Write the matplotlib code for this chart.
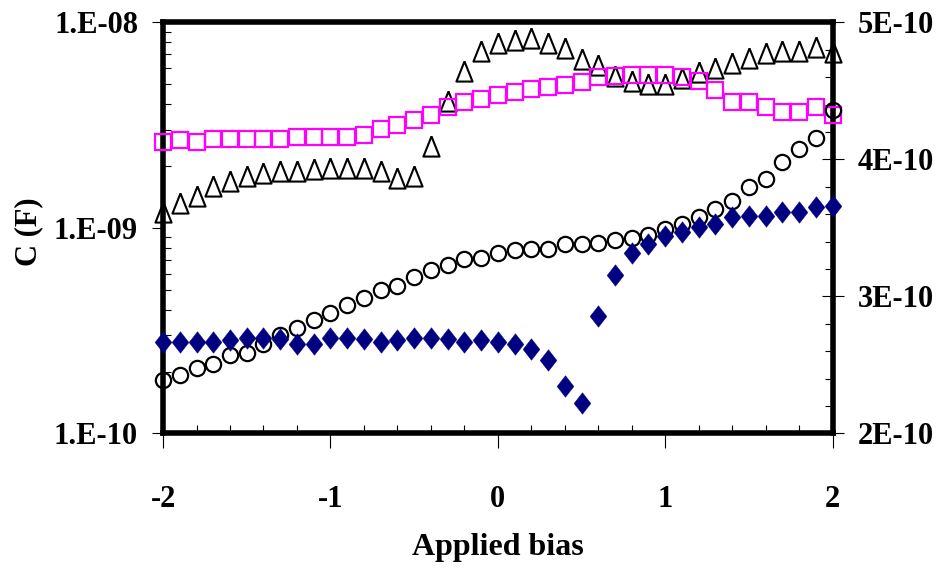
import numpy as np
import matplotlib
matplotlib.use('Agg')
from matplotlib import pyplot as plt
from matplotlib.ticker import MultipleLocator, FuncFormatter, LogLocator, NullFormatter

plt.rcParams['font.family'] = ['Liberation Serif', 'DejaVu Serif']
plt.rcParams['font.weight'] = 'bold'

# bias sweep, -2 V to 2 V in 0.1 V steps
bias = np.round(np.arange(-2.0, 2.01, 0.1), 1)

# left axis (log scale), C in F
c_triangle = [1.20e-9, 1.32e-9, 1.43e-9, 1.60e-9, 1.69e-9, 1.79e-9, 1.85e-9, 1.89e-9, 1.89e-9, 1.94e-9,
              1.96e-9, 1.96e-9, 1.96e-9, 1.89e-9, 1.75e-9, 1.79e-9, 2.51e-9, 4.15e-9, 5.81e-9, 7.27e-9,
              7.95e-9, 8.22e-9, 8.40e-9, 7.95e-9, 7.51e-9, 6.64e-9, 6.21e-9, 5.49e-9, 5.19e-9, 5.02e-9,
              5.02e-9, 5.37e-9, 5.74e-9, 6.01e-9, 6.35e-9, 6.72e-9, 7.11e-9, 7.27e-9, 7.27e-9, 7.60e-9,
              7.19e-9]
c_square = [2.62e-9, 2.68e-9, 2.62e-9, 2.71e-9, 2.71e-9, 2.71e-9, 2.71e-9, 2.71e-9, 2.77e-9, 2.77e-9,
            2.77e-9, 2.77e-9, 2.84e-9, 3.03e-9, 3.17e-9, 3.35e-9, 3.55e-9, 3.88e-9, 4.10e-9, 4.24e-9,
            4.44e-9, 4.59e-9, 4.75e-9, 4.86e-9, 4.96e-9, 5.13e-9, 5.43e-9, 5.49e-9, 5.55e-9, 5.55e-9,
            5.55e-9, 5.43e-9, 5.19e-9, 4.69e-9, 4.10e-9, 4.10e-9, 3.88e-9, 3.67e-9, 3.67e-9, 3.88e-9,
            3.55e-9]

# right axis (linear), C in F
c_circle = [2.39e-10, 2.43e-10, 2.48e-10, 2.51e-10, 2.57e-10, 2.59e-10, 2.65e-10, 2.72e-10, 2.77e-10, 2.83e-10,
            2.88e-10, 2.94e-10, 2.99e-10, 3.05e-10, 3.08e-10, 3.14e-10, 3.19e-10, 3.23e-10, 3.27e-10, 3.28e-10,
            3.32e-10, 3.34e-10, 3.35e-10, 3.35e-10, 3.38e-10, 3.38e-10, 3.39e-10, 3.41e-10, 3.43e-10, 3.45e-10,
            3.49e-10, 3.53e-10, 3.58e-10, 3.64e-10, 3.70e-10, 3.80e-10, 3.86e-10, 3.98e-10, 4.08e-10, 4.16e-10,
            4.36e-10]
c_diamond = [2.67e-10, 2.67e-10, 2.67e-10, 2.67e-10, 2.68e-10, 2.70e-10, 2.70e-10, 2.69e-10, 2.65e-10, 2.65e-10,
             2.70e-10, 2.70e-10, 2.69e-10, 2.67e-10, 2.68e-10, 2.70e-10, 2.70e-10, 2.69e-10, 2.67e-10, 2.68e-10,
             2.67e-10, 2.65e-10, 2.62e-10, 2.54e-10, 2.35e-10, 2.22e-10, 2.86e-10, 3.16e-10, 3.32e-10, 3.38e-10,
             3.44e-10, 3.47e-10, 3.51e-10, 3.53e-10, 3.58e-10, 3.59e-10, 3.59e-10, 3.62e-10, 3.62e-10, 3.65e-10,
             3.66e-10]

# slightly tall marker shapes
tall_triangle = [(0, 1), (-0.8, -1), (0.8, -1), (0, 1)]
tall_diamond = [(0, 1), (0.78, 0), (0, -1), (-0.78, 0), (0, 1)]

fig = plt.figure(figsize=(9.44, 5.76), dpi=100)
ax = fig.add_axes([0.1727, 0.2474, 0.7093, 0.7136])
ax2 = ax.twinx()

ax.plot(bias, c_triangle, linestyle='none', marker=tall_triangle, ms=14.5, mfc='none', mec='black', mew=1.5,
        clip_on=False, zorder=3)
ax.plot(bias, c_square, linestyle='none', marker='s', ms=11.5, mfc='none', mec='#ff00ff', mew=1.6,
        clip_on=False, zorder=3)
ax2.plot(bias, c_circle, linestyle='none', marker='o', ms=11, mfc='none', mec='black', mew=1.6,
         clip_on=False, zorder=3)
ax2.plot(bias, c_diamond, linestyle='none', marker=tall_diamond, ms=15.5, mfc='#000080', mec='#000080', mew=0.3,
         clip_on=False, zorder=3)

ax.set_xlim(-2, 2)
ax.set_yscale('log')
ax.set_ylim(1e-10, 1e-8)
ax2.set_ylim(2e-10, 5e-10)

# thick frame on the primary axes only
for s in ax.spines.values():
    s.set_linewidth(4)
    s.set_color('black')
for s in ax2.spines.values():
    s.set_visible(False)

ax.set_xticks([-2, -1, 0, 1, 2])
ax.xaxis.set_minor_locator(MultipleLocator(0.2))
ax.xaxis.set_major_formatter(FuncFormatter(lambda v, p: '%d' % round(v)))
ax.set_yticks([1e-10, 1e-9, 1e-8])
ax.yaxis.set_minor_locator(LogLocator(base=10, subs=np.arange(2, 10)))
ax.yaxis.set_minor_formatter(NullFormatter())
ax.yaxis.set_major_formatter(FuncFormatter(lambda v, p: '1.E-%02d' % round(-np.log10(v))))

ax2.set_yticks([2e-10, 3e-10, 4e-10, 5e-10])
ax2.yaxis.set_minor_locator(MultipleLocator(0.2e-10))
ax2.yaxis.set_major_formatter(FuncFormatter(lambda v, p: '%dE-10' % round(v * 1e10)))

ax.tick_params(axis='x', which='major', direction='out', length=11, width=0.8, pad=26, labelsize=22)
ax.tick_params(axis='x', which='minor', direction='in', length=6, width=0.8)
ax.tick_params(axis='y', which='major', direction='out', length=8, width=0.8, pad=10, labelsize=22)
ax.tick_params(axis='y', which='minor', direction='in', length=6, width=0.8)
ax2.tick_params(axis='y', which='major', direction='inout', length=16, width=0.8, pad=10, labelsize=22)
ax2.tick_params(axis='y', which='minor', direction='in', length=6, width=0.8)

for lab in ax.get_xticklabels() + ax.get_yticklabels() + ax2.get_yticklabels():
    lab.set_fontweight('bold')

ax.set_xlabel('Applied bias', fontsize=23, fontweight='bold', labelpad=14)
fig.text(0.030, 0.598, 'C (F)', rotation=90, fontsize=22, fontweight='bold', ha='center', va='center')

fig.savefig('out.png', dpi=100)
